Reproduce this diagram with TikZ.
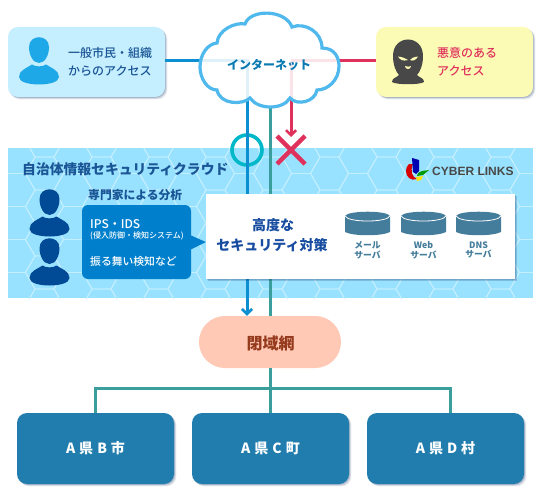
\documentclass[tikz,border=0pt]{standalone}
\usepackage{fontspec}
\setmainfont{Noto Sans CJK JP}
\newfontfamily\jpmed{Noto Sans CJK JP Medium}
\newfontfamily\latinbold{Liberation Sans}[BoldFont={Liberation Sans Bold}]
\usetikzlibrary{arrows.meta,calc}
\definecolor{citizenfill}{HTML}{C5EEFF}
\definecolor{badfill}{HTML}{FBFBB5}
\definecolor{bandfill}{HTML}{99E2FF}
\definecolor{hexline}{HTML}{C4EFFF}
\definecolor{cloudline}{HTML}{4FB8EC}
\definecolor{bluel}{HTML}{0B8FD0}
\definecolor{teall}{HTML}{3A9E9C}
\definecolor{redl}{HTML}{E0305C}
\definecolor{ringc}{HTML}{00B8C8}
\definecolor{navy}{HTML}{1A5595}
\definecolor{person}{HTML}{004A96}
\definecolor{personlight}{HTML}{1FA8E8}
\definecolor{bubble}{HTML}{0080CC}
\definecolor{cyl}{HTML}{447D9C}
\definecolor{pillc}{HTML}{FFC9B5}
\definecolor{pilltext}{HTML}{953A1C}
\definecolor{townc}{HTML}{217DAD}
\definecolor{shadowc}{HTML}{1F3F70}
\definecolor{mask}{HTML}{484848}
\tikzset{
  softshadow/.style={
    preaction={fill=shadowc,fill opacity=.10,transform canvas={shift={(2.4pt,-2.4pt)}}},
    preaction={fill=shadowc,fill opacity=.14,transform canvas={shift={(1.6pt,-1.6pt)}}},
    preaction={fill=shadowc,fill opacity=.18,transform canvas={shift={(0.8pt,-0.8pt)}}}},
  topbox/.style={rectangle,rounded corners=10pt,minimum width=157pt,minimum height=70pt,softshadow,inner sep=0},
  townbox/.style={topbox,fill=townc,minimum width=157pt,minimum height=71pt,text=white,font=\bfseries\fontsize{14}{14}\selectfont},
  txt/.style={inner sep=0,anchor=west,font=\jpmed\fontsize{#1}{#1}\selectfont},
  txt/.default=12,
  ctr/.style={inner sep=0,anchor=center,font=\bfseries\fontsize{#1}{#1}\selectfont},
  srvlabel/.style={ctr=8.8,text=cyl,align=center},
  wire/.style={line width=3pt},
  barb/.style={-{Straight Barb[length=5pt,width=10pt,line width=2.6pt]}},
}
% person icon: #1 x, #2 y of head centre, #3 colour
\newcommand{\personicon}[3]{%
  \fill[#3] (#1-10,#2-3) .. controls (#1-10,#2-16) and (#1+10,#2-16) .. (#1+10,#2-3)
    .. controls (#1+10,#2+5) and (#1+6,#2+13) .. (#1,#2+13)
    .. controls (#1-6,#2+13) and (#1-10,#2+5) .. (#1-10,#2-3) -- cycle;
  \fill[#3] (#1-20,#2+27) .. controls (#1-20,#2+20) and (#1-12,#2+18) .. (#1-7,#2+14.5)
    .. controls (#1-4,#2+17) and (#1+4,#2+17) .. (#1+7,#2+14.5)
    .. controls (#1+12,#2+18) and (#1+20,#2+20) .. (#1+20,#2+27)
    .. controls (#1+20,#2+32) and (#1+10,#2+34.5) .. (#1,#2+34.5)
    .. controls (#1-10,#2+34.5) and (#1-20,#2+32) .. (#1-20,#2+27) -- cycle;
}
% server drum: #1 left x
\newcommand{\serverdrum}[1]{%
  \fill[cyl] (#1,216) .. controls (#1+3,210.3) and (#1+42,210.3) .. (#1+45,216)
    -- (#1+45,232) .. controls (#1+37,236.3) and (#1+8,236.3) .. (#1,232) -- cycle;
  \draw[white,line width=.8pt] (#1,216) .. controls (#1+3,222.7) and (#1+42,222.7) .. (#1+45,216);
}
\begin{document}
\begin{tikzpicture}[x=1pt,y=-1pt]
\useasboundingbox (0,0) rectangle (540,500);
\fill[white] (0,0) rectangle (540,500);

% cloud band with hexagon texture
\fill[bandfill] (8,148) rectangle (533,298);
\begin{scope}
\clip (8,148) rectangle (533,298);
\foreach \k in {-1,...,9}{
  \foreach \j in {-1,...,9}{
    \foreach \o in {0,1}{
      \pgfmathsetmacro{\cx}{44.5+57*\k+28.5*\o}
      \pgfmathsetmacro{\cy}{140.5+33*\j+16.5*\o}
      \draw[hexline,line width=.9pt] (\cx-19,\cy) -- (\cx-9.5,\cy+16.5) -- (\cx+9.5,\cy+16.5)
        -- (\cx+19,\cy) -- (\cx+9.5,\cy-16.5) -- (\cx-9.5,\cy-16.5) -- cycle;
    }
  }
}
\end{scope}

% named places
\node[topbox,fill=citizenfill] (citizen) at (86.5,62) {};
\node[topbox,fill=badfill] (bad) at (454.5,62) {};
\node[rectangle,fill=pillc,rounded corners=25.9pt,minimum width=142pt,minimum height=52pt,inner sep=0] (pill) at (270,342) {};
\node[townbox] (townB) at (95.5,448.5) {A\hspace{4pt}県\hspace{4pt}B\hspace{4pt}市};
\node[townbox] (townC) at (270.5,448.5) {A\hspace{4pt}県\hspace{4pt}C\hspace{4pt}町};
\node[townbox] (townD) at (445.5,448.5) {A\hspace{4pt}県\hspace{4pt}D\hspace{4pt}村};
\coordinate (bluecorner) at (247,61);
\coordinate (redcorner) at (291,61);
\coordinate (tealtop) at (270,106);
\coordinate (treejoin) at (270,388);
\coordinate (treeD) at ($(townD.north)+(4.5,0)$);
\coordinate (redtip) at (291,137);
\coordinate (crossA) at (277,136);
\coordinate (crossB) at (305,164);
\coordinate (crossC) at (305,136);
\coordinate (crossD) at (277,164);

% ring below the wire
\node[circle,draw=ringc,line width=3.6pt,minimum size=30pt,inner sep=0] (ring) at (247,150) {};

% connectors
\draw[wire,bluel,barb] (citizen.east |- bluecorner) -- (bluecorner) -- (bluecorner |- pill.north);
\draw[wire,teall] (tealtop) -- (tealtop |- pill.north);
\draw[wire,redl] (bad.west |- redcorner) -- (redcorner);
\draw[wire,redl,barb] (redcorner) -- (redtip);
\draw[wire,teall] (pill.south) -- (treejoin) -- (townC.north -| treejoin);
\draw[wire,teall] (townB.north) |- (treejoin) -| (treeD);

% cloud
\path[fill=white,fill opacity=.87,draw=cloudline,line width=3.2pt,draw opacity=1]
  (217,43) .. controls (218,30) and (235,22) .. (245,24)
  .. controls (250,9) and (285,9) .. (292,27)
  .. controls (305,22) and (322,32) .. (322,48)
  .. controls (335,48) and (339,58) .. (339,66)
  .. controls (339,80) and (328,90) .. (317,90)
  .. controls (315,102) and (297,106) .. (290,98)
  .. controls (283,110) and (258,110) .. (250,98)
  .. controls (243,105) and (220,105) .. (217,90)
  .. controls (207,90) and (200,78) .. (200,67)
  .. controls (200,55) and (207,44) .. (217,43) -- cycle;
\node[ctr=12,text=bluel!85!black] (inet) at (269,65) {インターネット};

% cross
\draw[redl,line width=4.4pt] (crossA) -- (crossB) (crossC) -- (crossD);

% top box contents
\personicon{39}{50}{personlight}
\node[txt,text=navy] (citizenA) at (68,53) {一般市民・組織};
\node[txt,text=navy] (citizenB) at (68,71) {からのアクセス};
% masked figure
\fill[mask] (393,56) .. controls (393,34) and (423,34) .. (423,56)
  .. controls (423,65) and (420,72) .. (417,75) .. controls (420,78) and (424,78) .. (424,82)
  .. controls (420,85) and (396,85) .. (392,82) .. controls (392,78) and (396,78) .. (399,75)
  .. controls (396,72) and (393,65) .. (393,56) -- cycle;
\fill[badfill] (398,56.5) .. controls (402,57) and (405,58) .. (408,60) .. controls (403,61.5) and (400,60) .. (398,56.5) -- cycle;
\fill[badfill] (418,56.5) .. controls (414,57) and (411,58) .. (410,60) .. controls (413,61.5) and (416,60) .. (418,56.5) -- cycle;
\fill[badfill] (405,66) .. controls (407,67) and (410,67) .. (411,66) .. controls (411,70) and (405,70) .. (405,66) -- cycle;
\node[txt,text=redl] (badA) at (437,53) {悪意のある};
\node[txt,text=redl] (badB) at (437,71) {アクセス};

% band contents
\node[txt,text=navy,font=\bfseries\fontsize{13.8}{13.8}\selectfont] (title) at (22,169) {自治体情報セキュリティクラウド};
% logo
\fill[red!85!black] (409,164) .. controls (405,167) and (405,175) .. (409,178) .. controls (411,180) and (414,180) .. (417,179)
  .. controls (412,177) and (410,171) .. (413,164) -- cycle;
\fill[blue!70!black] (412,158) -- (419,160) -- (419,171) -- (416,174) -- (413,172) -- cycle;
\fill[green!60!black] (418,173) -- (422,171) -- (429,170) -- (423,175) -- (417,176) -- cycle;
\fill[yellow!85!orange] (416,177) -- (423,176) -- (421,180) -- (417,181) -- cycle;
\node[inner sep=0,anchor=west,text=mask,font=\latinbold\bfseries\fontsize{12}{12}\selectfont] (logo) at (432,171) {CYBER LINKS};

\personicon{49.5}{202}{person}
\personicon{49.5}{251}{person}
\node[txt,text=navy,font=\bfseries\fontsize{11.8}{11.8}\selectfont] (analysis) at (88,195) {専門家による分析};

\node[rectangle,fill=white,minimum width=309pt,minimum height=85pt,inner sep=0,softshadow] (white) at (360.5,236.5) {};
\node[rectangle,fill=bubble,rounded corners=6pt,minimum width=109pt,minimum height=74pt,inner sep=0] (bubblebox) at (136.5,242) {};
\fill[bubble] (190,235) -- (white.west |- bubblebox.center) -- (190,250) -- cycle;
\node[txt,text=white] (ips) at (90,224) {IPS・IDS};
\node[txt,text=white,font=\jpmed\fontsize{8}{8}\selectfont] (ipsb) at (90,236) {(侵入防御・検知システム)};
\node[txt,text=white,font=\jpmed\fontsize{10.8}{10.8}\selectfont] (beh) at (90,261) {振る舞い検知など};

\node[ctr=14,text=navy!90!blue] (advA) at (273,225) {高度な};
\node[ctr=14,text=navy!90!blue] (advB) at (272,245) {セキュリティ対策};
\serverdrum{345}
\serverdrum{401}
\serverdrum{456}
\node[srvlabel] (s1) at (367.5,250) {メール\\[1pt]サーバ};
\node[srvlabel] (s2) at (423.5,250) {Web\\[1pt]サーバ};
\node[srvlabel] (s3) at (478.5,250) {DNS\\[1pt]サーバ};

% pill text
\node[ctr=16,text=pilltext] (pilltxt) at (270.5,343) {閉域網};
\end{tikzpicture}
\end{document}
